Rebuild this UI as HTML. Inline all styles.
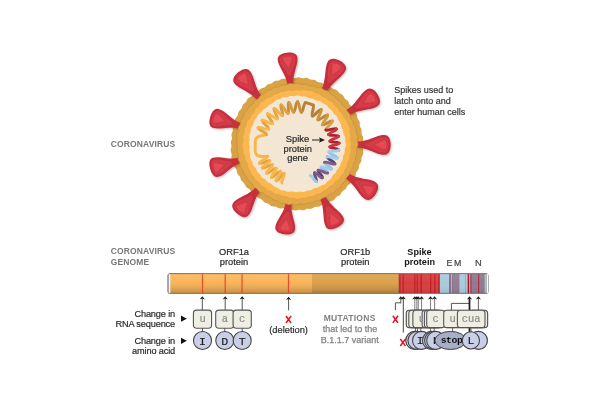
<!DOCTYPE html><html><head><meta charset="utf-8"><style>html,body{margin:0;padding:0;background:#fff;width:600px;height:406px;overflow:hidden}svg{display:block;will-change:transform}</style></head><body><svg width="600" height="406" viewBox="0 0 600 406">
<defs><filter id="sh" x="-30%" y="-30%" width="160%" height="160%"><feGaussianBlur in="SourceAlpha" stdDeviation="1.2"/><feOffset dx="0.8" dy="1" result="b"/><feComponentTransfer><feFuncA type="linear" slope="0.25"/></feComponentTransfer><feMerge><feMergeNode/><feMergeNode in="SourceGraphic"/></feMerge></filter>
<linearGradient id="gOr" x1="0" y1="0" x2="0" y2="1"><stop offset="0" stop-color="#fbb85c"/><stop offset="0.45" stop-color="#f9b55a"/><stop offset="1" stop-color="#d99a4a"/></linearGradient>
<linearGradient id="gOr2" x1="0" y1="0" x2="0" y2="1"><stop offset="0" stop-color="#dea44c"/><stop offset="0.45" stop-color="#dba24b"/><stop offset="1" stop-color="#bf8a42"/></linearGradient>
<linearGradient id="gShade" x1="0" y1="0" x2="0" y2="1"><stop offset="0" stop-color="#fff" stop-opacity="0.06"/><stop offset="0.5" stop-color="#fff" stop-opacity="0"/><stop offset="1" stop-color="#000" stop-opacity="0.08"/></linearGradient>
<linearGradient id="gCap" x1="0" y1="0" x2="1" y2="0"><stop offset="0" stop-color="#bbb"/><stop offset="0.6" stop-color="#fff"/><stop offset="1" stop-color="#ddd"/></linearGradient>
<filter id="bsh" x="-20%" y="-20%" width="140%" height="140%"><feGaussianBlur in="SourceAlpha" stdDeviation="0.6"/><feOffset dx="-0.4" dy="0.3" result="b"/><feComponentTransfer><feFuncA type="linear" slope="0.35"/></feComponentTransfer><feMerge><feMergeNode/><feMergeNode in="SourceGraphic"/></feMerge></filter>
</defs>
<rect width="600" height="406" fill="#fff"/>
<path d="M363.68 144 L363.94 144.88 L364.02 145.76 L363.91 146.63 L363.65 147.49 L363.35 148.35 L363.13 149.2 L363.05 150.07 L363.12 150.95 L363.25 151.84 L363.35 152.74 L363.3 153.61 L363.05 154.46 L362.65 155.28 L362.18 156.08 L361.78 156.88 L361.51 157.71 L361.41 158.58 L361.41 159.46 L361.41 160.36 L361.29 161.23 L360.99 162.05 L360.54 162.82 L360.01 163.57 L359.52 164.31 L359.16 165.1 L358.97 165.95 L358.9 166.83 L358.84 167.74 L358.7 168.62 L358.39 169.43 L357.92 170.17 L357.35 170.87 L356.79 171.56 L356.33 172.3 L356.02 173.11 L355.84 173.98 L355.68 174.88 L355.46 175.74 L355.09 176.53 L354.55 177.22 L353.89 177.85 L353.21 178.45 L352.61 179.09 L352.14 179.81 L351.8 180.61 L351.51 181.46 L351.17 182.29 L350.72 183.03 L350.11 183.66 L349.38 184.19 L348.62 184.69 L347.92 185.23 L347.34 185.87 L346.89 186.61 L346.51 187.42 L346.12 188.23 L345.63 188.96 L345.02 189.57 L344.29 190.07 L343.51 190.51 L342.77 190.99 L342.14 191.57 L341.62 192.27 L341.18 193.07 L340.75 193.89 L340.24 194.63 L339.61 195.24 L338.87 195.71 L338.07 196.1 L337.28 196.49 L336.56 196.98 L335.94 197.6 L335.39 198.32 L334.85 199.07 L334.25 199.75 L333.56 200.29 L332.75 200.66 L331.88 200.92 L331 201.15 L330.17 201.45 L329.42 201.89 L328.74 202.45 L328.07 203.06 L327.38 203.62 L326.61 204.04 L325.75 204.28 L324.84 204.39 L323.91 204.45 L323.03 204.58 L322.2 204.85 L321.44 205.27 L320.71 205.77 L319.97 206.25 L319.17 206.62 L318.32 206.81 L317.42 206.85 L316.51 206.84 L315.62 206.87 L314.78 207.05 L313.99 207.39 L313.22 207.85 L312.44 208.31 L311.63 208.67 L310.79 208.86 L309.91 208.88 L309.01 208.81 L308.13 208.76 L307.27 208.83 L306.43 209.07 L305.61 209.44 L304.79 209.83 L303.95 210.13 L303.09 210.25 L302.21 210.18 L301.33 210 L300.45 209.8 L299.58 209.7 L298.72 209.77 L297.86 209.97 L297 210.23 L296.13 210.42 L295.26 210.44 L294.4 210.28 L293.54 209.98 L292.7 209.65 L291.85 209.41 L291 209.33 L290.13 209.4 L289.24 209.57 L288.35 209.7 L287.48 209.69 L286.63 209.5 L285.8 209.17 L284.99 208.78 L284.18 208.46 L283.33 208.29 L282.45 208.29 L281.54 208.38 L280.63 208.47 L279.73 208.44 L278.88 208.24 L278.08 207.87 L277.31 207.41 L276.53 206.99 L275.72 206.68 L274.86 206.53 L273.95 206.49 L273.03 206.46 L272.14 206.32 L271.32 206.01 L270.57 205.52 L269.87 204.93 L269.19 204.33 L268.46 203.83 L267.67 203.47 L266.82 203.23 L265.95 203.02 L265.11 202.74 L264.35 202.31 L263.68 201.71 L263.09 201 L262.52 200.27 L261.9 199.63 L261.2 199.13 L260.42 198.75 L259.59 198.44 L258.77 198.09 L258.04 197.62 L257.42 197.01 L256.88 196.28 L256.38 195.53 L255.83 194.84 L255.19 194.27 L254.43 193.84 L253.61 193.48 L252.79 193.1 L252.04 192.63 L251.42 192.03 L250.91 191.31 L250.46 190.54 L249.98 189.8 L249.41 189.16 L248.71 188.64 L247.93 188.19 L247.13 187.73 L246.41 187.2 L245.84 186.55 L245.4 185.79 L245.05 184.95 L244.7 184.13 L244.26 183.39 L243.69 182.73 L243.01 182.16 L242.3 181.59 L241.66 180.98 L241.16 180.26 L240.82 179.45 L240.59 178.57 L240.37 177.69 L240.07 176.87 L239.62 176.13 L239.05 175.47 L238.41 174.83 L237.81 174.16 L237.34 173.42 L237.04 172.6 L236.87 171.72 L236.73 170.83 L236.52 169.99 L236.16 169.2 L235.65 168.47 L235.06 167.78 L234.48 167.06 L234.03 166.3 L233.76 165.47 L233.64 164.59 L233.59 163.69 L233.5 162.81 L233.28 161.97 L232.9 161.18 L232.42 160.4 L231.95 159.62 L231.6 158.8 L231.43 157.94 L231.44 157.04 L231.55 156.13 L231.66 155.23 L231.64 154.35 L231.47 153.5 L231.18 152.66 L230.87 151.83 L230.65 150.97 L230.61 150.1 L230.75 149.21 L231.01 148.33 L231.28 147.44 L231.44 146.58 L231.43 145.72 L231.27 144.86 L231.05 144 L230.88 143.13 L230.87 142.27 L231.04 141.41 L231.34 140.56 L231.66 139.72 L231.89 138.88 L231.95 138.02 L231.85 137.15 L231.66 136.27 L231.5 135.38 L231.48 134.5 L231.63 133.65 L231.94 132.82 L232.31 132.01 L232.61 131.19 L232.78 130.35 L232.78 129.47 L232.68 128.56 L232.6 127.65 L232.65 126.76 L232.87 125.91 L233.27 125.12 L233.75 124.36 L234.21 123.6 L234.55 122.8 L234.73 121.95 L234.81 121.06 L234.87 120.15 L235.04 119.28 L235.37 118.47 L235.87 117.73 L236.47 117.05 L237.06 116.37 L237.55 115.64 L237.89 114.85 L238.1 113.99 L238.27 113.1 L238.5 112.24 L238.88 111.45 L239.41 110.75 L240.06 110.12 L240.71 109.51 L241.29 108.85 L241.72 108.1 L242.02 107.26 L242.27 106.38 L242.55 105.52 L242.96 104.74 L243.52 104.06 L244.2 103.49 L244.92 102.94 L245.59 102.37 L246.14 101.7 L246.57 100.93 L246.94 100.1 L247.33 99.28 L247.83 98.55 L248.47 97.95 L249.24 97.47 L250.06 97.06 L250.85 96.63 L251.55 96.11 L252.14 95.47 L252.65 94.75 L253.17 94.02 L253.76 93.37 L254.47 92.87 L255.29 92.5 L256.17 92.21 L257.04 91.92 L257.82 91.53 L258.5 91.01 L259.1 90.37 L259.68 89.7 L260.3 89.08 L261.02 88.59 L261.83 88.25 L262.69 88.02 L263.56 87.79 L264.36 87.47 L265.08 87 L265.72 86.39 L266.34 85.72 L266.98 85.08 L267.7 84.58 L268.49 84.24 L269.35 84.02 L270.22 83.85 L271.06 83.61 L271.83 83.23 L272.55 82.7 L273.24 82.1 L273.95 81.51 L274.71 81.06 L275.54 80.8 L276.43 80.69 L277.33 80.65 L278.21 80.58 L279.06 80.38 L279.86 80.03 L280.64 79.57 L281.42 79.12 L282.24 78.79 L283.11 78.64 L284 78.66 L284.91 78.78 L285.81 78.88 L286.68 78.85 L287.53 78.66 L288.36 78.34 L289.19 77.99 L290.03 77.73 L290.9 77.63 L291.78 77.71 L292.67 77.91 L293.55 78.11 L294.41 78.19 L295.27 78.11 L296.13 77.88 L297 77.59 L297.87 77.36 L298.75 77.29 L299.62 77.41 L300.48 77.67 L301.33 77.96 L302.18 78.17 L303.04 78.23 L303.92 78.14 L304.82 77.97 L305.71 77.85 L306.59 77.87 L307.44 78.09 L308.26 78.47 L309.06 78.91 L309.87 79.3 L310.7 79.55 L311.56 79.65 L312.45 79.65 L313.34 79.67 L314.2 79.8 L315.02 80.12 L315.78 80.6 L316.51 81.16 L317.25 81.68 L318.02 82.07 L318.85 82.3 L319.72 82.4 L320.61 82.49 L321.47 82.65 L322.28 82.98 L323.01 83.46 L323.7 84.04 L324.39 84.6 L325.12 85.04 L325.93 85.33 L326.81 85.49 L327.72 85.6 L328.61 85.78 L329.43 86.1 L330.15 86.58 L330.81 87.17 L331.45 87.78 L332.14 88.31 L332.91 88.7 L333.77 88.97 L334.67 89.2 L335.54 89.46 L336.33 89.86 L337.01 90.42 L337.59 91.1 L338.13 91.83 L338.7 92.51 L339.35 93.08 L340.11 93.52 L340.93 93.91 L341.73 94.32 L342.45 94.83 L343.04 95.48 L343.51 96.26 L343.92 97.08 L344.34 97.88 L344.87 98.57 L345.51 99.15 L346.25 99.66 L346.99 100.16 L347.67 100.73 L348.21 101.41 L348.61 102.21 L348.94 103.06 L349.27 103.89 L349.7 104.64 L350.27 105.3 L350.96 105.87 L351.68 106.42 L352.34 107.03 L352.86 107.73 L353.23 108.52 L353.48 109.39 L353.73 110.25 L354.05 111.06 L354.52 111.79 L355.11 112.45 L355.75 113.09 L356.35 113.76 L356.81 114.51 L357.09 115.34 L357.23 116.23 L357.33 117.14 L357.48 118.01 L357.78 118.83 L358.22 119.58 L358.73 120.3 L359.22 121.04 L359.59 121.84 L359.78 122.69 L359.81 123.59 L359.77 124.51 L359.79 125.4 L359.94 126.25 L360.26 127.05 L360.7 127.82 L361.14 128.6 L361.48 129.41 L361.65 130.26 L361.66 131.14 L361.58 132.03 L361.54 132.91 L361.62 133.76 L361.88 134.59 L362.28 135.41 L362.7 136.22 L363.05 137.06 L363.22 137.91 L363.22 138.79 L363.1 139.67 L362.97 140.54 L362.95 141.41 L363.08 142.27 L363.36 143.13Z" fill="#d9a245"/>
<g filter="url(#sh)">
<g transform="translate(297.0 144.0) rotate(353.7) translate(0 -60) scale(1 0.9436) translate(0 60)"><path d="M -3.1 -60 L -3.2 -63 C -3.7 -68 -6.2 -74 -7.9 -78.5 C -9.3 -82 -10 -85 -9.9 -87.6 C -9.8 -91.6 -6 -93.8 0 -93.8 C 6 -93.8 9.8 -91.6 9.9 -87.6 C 10 -85 9.3 -82 7.9 -78.5 C 6.2 -74 3.7 -68 3.2 -63 L 3.1 -60 Z" fill="#c5313e"/><path d="M -1.7 -68.5 C -2.6 -72 -5 -76.5 -6.6 -80 C -7.8 -82.8 -8.4 -85.5 -8.3 -87.6 C -8.2 -90.4 -5 -92.2 0 -92.2 C 5 -92.2 8.2 -90.4 8.3 -87.6 C 8.4 -85.5 7.8 -82.8 6.6 -80 C 5 -76.5 2.6 -72 1.7 -68.5 Z" fill="#d33a47" stroke="#bb2b39" stroke-width="0.6"/><path d="M 0 -77 L -3.9 -84.6 C -4.6 -86 -5 -87.4 -4.7 -88.4 C -4.2 -89.6 -2.3 -89.9 0 -89.9 C 2.3 -89.9 4.2 -89.6 4.7 -88.4 C 5 -87.4 4.6 -86 3.9 -84.6 Z" fill="#e54953" stroke="#c63240" stroke-width="0.5"/></g>
<g transform="translate(297.0 144.0) rotate(27.0) translate(0 -60) scale(1 0.9970) translate(0 60)"><path d="M -3.1 -60 L -3.2 -63 C -3.7 -68 -6.2 -74 -7.9 -78.5 C -9.3 -82 -10 -85 -9.9 -87.6 C -9.8 -91.6 -6 -93.8 0 -93.8 C 6 -93.8 9.8 -91.6 9.9 -87.6 C 10 -85 9.3 -82 7.9 -78.5 C 6.2 -74 3.7 -68 3.2 -63 L 3.1 -60 Z" fill="#c5313e"/><path d="M -1.7 -68.5 C -2.6 -72 -5 -76.5 -6.6 -80 C -7.8 -82.8 -8.4 -85.5 -8.3 -87.6 C -8.2 -90.4 -5 -92.2 0 -92.2 C 5 -92.2 8.2 -90.4 8.3 -87.6 C 8.4 -85.5 7.8 -82.8 6.6 -80 C 5 -76.5 2.6 -72 1.7 -68.5 Z" fill="#d33a47" stroke="#bb2b39" stroke-width="0.6"/><path d="M 0 -77 L -3.9 -84.6 C -4.6 -86 -5 -87.4 -4.7 -88.4 C -4.2 -89.6 -2.3 -89.9 0 -89.9 C 2.3 -89.9 4.2 -89.6 4.7 -88.4 C 5 -87.4 4.6 -86 3.9 -84.6 Z" fill="#e54953" stroke="#c63240" stroke-width="0.5"/></g>
<g transform="translate(297.0 144.0) rotate(58.4) translate(0 -60) scale(1 1.0267) translate(0 60)"><path d="M -3.1 -60 L -3.2 -63 C -3.7 -68 -6.2 -74 -7.9 -78.5 C -9.3 -82 -10 -85 -9.9 -87.6 C -9.8 -91.6 -6 -93.8 0 -93.8 C 6 -93.8 9.8 -91.6 9.9 -87.6 C 10 -85 9.3 -82 7.9 -78.5 C 6.2 -74 3.7 -68 3.2 -63 L 3.1 -60 Z" fill="#c5313e"/><path d="M -1.7 -68.5 C -2.6 -72 -5 -76.5 -6.6 -80 C -7.8 -82.8 -8.4 -85.5 -8.3 -87.6 C -8.2 -90.4 -5 -92.2 0 -92.2 C 5 -92.2 8.2 -90.4 8.3 -87.6 C 8.4 -85.5 7.8 -82.8 6.6 -80 C 5 -76.5 2.6 -72 1.7 -68.5 Z" fill="#d33a47" stroke="#bb2b39" stroke-width="0.6"/><path d="M 0 -77 L -3.9 -84.6 C -4.6 -86 -5 -87.4 -4.7 -88.4 C -4.2 -89.6 -2.3 -89.9 0 -89.9 C 2.3 -89.9 4.2 -89.6 4.7 -88.4 C 5 -87.4 4.6 -86 3.9 -84.6 Z" fill="#e54953" stroke="#c63240" stroke-width="0.5"/></g>
<g transform="translate(297.0 144.0) rotate(90.6) translate(0 -60) scale(1 0.9970) translate(0 60)"><path d="M -3.1 -60 L -3.2 -63 C -3.7 -68 -6.2 -74 -7.9 -78.5 C -9.3 -82 -10 -85 -9.9 -87.6 C -9.8 -91.6 -6 -93.8 0 -93.8 C 6 -93.8 9.8 -91.6 9.9 -87.6 C 10 -85 9.3 -82 7.9 -78.5 C 6.2 -74 3.7 -68 3.2 -63 L 3.1 -60 Z" fill="#c5313e"/><path d="M -1.7 -68.5 C -2.6 -72 -5 -76.5 -6.6 -80 C -7.8 -82.8 -8.4 -85.5 -8.3 -87.6 C -8.2 -90.4 -5 -92.2 0 -92.2 C 5 -92.2 8.2 -90.4 8.3 -87.6 C 8.4 -85.5 7.8 -82.8 6.6 -80 C 5 -76.5 2.6 -72 1.7 -68.5 Z" fill="#d33a47" stroke="#bb2b39" stroke-width="0.6"/><path d="M 0 -77 L -3.9 -84.6 C -4.6 -86 -5 -87.4 -4.7 -88.4 C -4.2 -89.6 -2.3 -89.9 0 -89.9 C 2.3 -89.9 4.2 -89.6 4.7 -88.4 C 5 -87.4 4.6 -86 3.9 -84.6 Z" fill="#e54953" stroke="#c63240" stroke-width="0.5"/></g>
<g transform="translate(297.0 144.0) rotate(122.5) translate(0 -60) scale(1 0.9852) translate(0 60)"><path d="M -3.1 -60 L -3.2 -63 C -3.7 -68 -6.2 -74 -7.9 -78.5 C -9.3 -82 -10 -85 -9.9 -87.6 C -9.8 -91.6 -6 -93.8 0 -93.8 C 6 -93.8 9.8 -91.6 9.9 -87.6 C 10 -85 9.3 -82 7.9 -78.5 C 6.2 -74 3.7 -68 3.2 -63 L 3.1 -60 Z" fill="#c5313e"/><path d="M -1.7 -68.5 C -2.6 -72 -5 -76.5 -6.6 -80 C -7.8 -82.8 -8.4 -85.5 -8.3 -87.6 C -8.2 -90.4 -5 -92.2 0 -92.2 C 5 -92.2 8.2 -90.4 8.3 -87.6 C 8.4 -85.5 7.8 -82.8 6.6 -80 C 5 -76.5 2.6 -72 1.7 -68.5 Z" fill="#d33a47" stroke="#bb2b39" stroke-width="0.6"/><path d="M 0 -77 L -3.9 -84.6 C -4.6 -86 -5 -87.4 -4.7 -88.4 C -4.2 -89.6 -2.3 -89.9 0 -89.9 C 2.3 -89.9 4.2 -89.6 4.7 -88.4 C 5 -87.4 4.6 -86 3.9 -84.6 Z" fill="#e54953" stroke="#c63240" stroke-width="0.5"/></g>
<g transform="translate(297.0 144.0) rotate(154.3) translate(0 -60) scale(1 0.9674) translate(0 60)"><path d="M -3.1 -60 L -3.2 -63 C -3.7 -68 -6.2 -74 -7.9 -78.5 C -9.3 -82 -10 -85 -9.9 -87.6 C -9.8 -91.6 -6 -93.8 0 -93.8 C 6 -93.8 9.8 -91.6 9.9 -87.6 C 10 -85 9.3 -82 7.9 -78.5 C 6.2 -74 3.7 -68 3.2 -63 L 3.1 -60 Z" fill="#c5313e"/><path d="M -1.7 -68.5 C -2.6 -72 -5 -76.5 -6.6 -80 C -7.8 -82.8 -8.4 -85.5 -8.3 -87.6 C -8.2 -90.4 -5 -92.2 0 -92.2 C 5 -92.2 8.2 -90.4 8.3 -87.6 C 8.4 -85.5 7.8 -82.8 6.6 -80 C 5 -76.5 2.6 -72 1.7 -68.5 Z" fill="#d33a47" stroke="#bb2b39" stroke-width="0.6"/><path d="M 0 -77 L -3.9 -84.6 C -4.6 -86 -5 -87.4 -4.7 -88.4 C -4.2 -89.6 -2.3 -89.9 0 -89.9 C 2.3 -89.9 4.2 -89.6 4.7 -88.4 C 5 -87.4 4.6 -86 3.9 -84.6 Z" fill="#e54953" stroke="#c63240" stroke-width="0.5"/></g>
<g transform="translate(297.0 144.0) rotate(188.0) translate(0 -60) scale(1 0.9199) translate(0 60)"><path d="M -3.1 -60 L -3.2 -63 C -3.7 -68 -6.2 -74 -7.9 -78.5 C -9.3 -82 -10 -85 -9.9 -87.6 C -9.8 -91.6 -6 -93.8 0 -93.8 C 6 -93.8 9.8 -91.6 9.9 -87.6 C 10 -85 9.3 -82 7.9 -78.5 C 6.2 -74 3.7 -68 3.2 -63 L 3.1 -60 Z" fill="#c5313e"/><path d="M -1.7 -68.5 C -2.6 -72 -5 -76.5 -6.6 -80 C -7.8 -82.8 -8.4 -85.5 -8.3 -87.6 C -8.2 -90.4 -5 -92.2 0 -92.2 C 5 -92.2 8.2 -90.4 8.3 -87.6 C 8.4 -85.5 7.8 -82.8 6.6 -80 C 5 -76.5 2.6 -72 1.7 -68.5 Z" fill="#d33a47" stroke="#bb2b39" stroke-width="0.6"/><path d="M 0 -77 L -3.9 -84.6 C -4.6 -86 -5 -87.4 -4.7 -88.4 C -4.2 -89.6 -2.3 -89.9 0 -89.9 C 2.3 -89.9 4.2 -89.6 4.7 -88.4 C 5 -87.4 4.6 -86 3.9 -84.6 Z" fill="#e54953" stroke="#c63240" stroke-width="0.5"/></g>
<g transform="translate(297.0 144.0) rotate(220.8) translate(0 -60) scale(1 0.9436) translate(0 60)"><path d="M -3.1 -60 L -3.2 -63 C -3.7 -68 -6.2 -74 -7.9 -78.5 C -9.3 -82 -10 -85 -9.9 -87.6 C -9.8 -91.6 -6 -93.8 0 -93.8 C 6 -93.8 9.8 -91.6 9.9 -87.6 C 10 -85 9.3 -82 7.9 -78.5 C 6.2 -74 3.7 -68 3.2 -63 L 3.1 -60 Z" fill="#c5313e"/><path d="M -1.7 -68.5 C -2.6 -72 -5 -76.5 -6.6 -80 C -7.8 -82.8 -8.4 -85.5 -8.3 -87.6 C -8.2 -90.4 -5 -92.2 0 -92.2 C 5 -92.2 8.2 -90.4 8.3 -87.6 C 8.4 -85.5 7.8 -82.8 6.6 -80 C 5 -76.5 2.6 -72 1.7 -68.5 Z" fill="#d33a47" stroke="#bb2b39" stroke-width="0.6"/><path d="M 0 -77 L -3.9 -84.6 C -4.6 -86 -5 -87.4 -4.7 -88.4 C -4.2 -89.6 -2.3 -89.9 0 -89.9 C 2.3 -89.9 4.2 -89.6 4.7 -88.4 C 5 -87.4 4.6 -86 3.9 -84.6 Z" fill="#e54953" stroke="#c63240" stroke-width="0.5"/></g>
<g transform="translate(297.0 144.0) rotate(254.0) translate(0 -60) scale(1 0.8961) translate(0 60)"><path d="M -3.1 -60 L -3.2 -63 C -3.7 -68 -6.2 -74 -7.9 -78.5 C -9.3 -82 -10 -85 -9.9 -87.6 C -9.8 -91.6 -6 -93.8 0 -93.8 C 6 -93.8 9.8 -91.6 9.9 -87.6 C 10 -85 9.3 -82 7.9 -78.5 C 6.2 -74 3.7 -68 3.2 -63 L 3.1 -60 Z" fill="#c5313e"/><path d="M -1.7 -68.5 C -2.6 -72 -5 -76.5 -6.6 -80 C -7.8 -82.8 -8.4 -85.5 -8.3 -87.6 C -8.2 -90.4 -5 -92.2 0 -92.2 C 5 -92.2 8.2 -90.4 8.3 -87.6 C 8.4 -85.5 7.8 -82.8 6.6 -80 C 5 -76.5 2.6 -72 1.7 -68.5 Z" fill="#d33a47" stroke="#bb2b39" stroke-width="0.6"/><path d="M 0 -77 L -3.9 -84.6 C -4.6 -86 -5 -87.4 -4.7 -88.4 C -4.2 -89.6 -2.3 -89.9 0 -89.9 C 2.3 -89.9 4.2 -89.6 4.7 -88.4 C 5 -87.4 4.6 -86 3.9 -84.6 Z" fill="#e54953" stroke="#c63240" stroke-width="0.5"/></g>
<g transform="translate(297.0 144.0) rotate(287.5) translate(0 -60) scale(1 0.9139) translate(0 60)"><path d="M -3.1 -60 L -3.2 -63 C -3.7 -68 -6.2 -74 -7.9 -78.5 C -9.3 -82 -10 -85 -9.9 -87.6 C -9.8 -91.6 -6 -93.8 0 -93.8 C 6 -93.8 9.8 -91.6 9.9 -87.6 C 10 -85 9.3 -82 7.9 -78.5 C 6.2 -74 3.7 -68 3.2 -63 L 3.1 -60 Z" fill="#c5313e"/><path d="M -1.7 -68.5 C -2.6 -72 -5 -76.5 -6.6 -80 C -7.8 -82.8 -8.4 -85.5 -8.3 -87.6 C -8.2 -90.4 -5 -92.2 0 -92.2 C 5 -92.2 8.2 -90.4 8.3 -87.6 C 8.4 -85.5 7.8 -82.8 6.6 -80 C 5 -76.5 2.6 -72 1.7 -68.5 Z" fill="#d33a47" stroke="#bb2b39" stroke-width="0.6"/><path d="M 0 -77 L -3.9 -84.6 C -4.6 -86 -5 -87.4 -4.7 -88.4 C -4.2 -89.6 -2.3 -89.9 0 -89.9 C 2.3 -89.9 4.2 -89.6 4.7 -88.4 C 5 -87.4 4.6 -86 3.9 -84.6 Z" fill="#e54953" stroke="#c63240" stroke-width="0.5"/></g>
<g transform="translate(297.0 144.0) rotate(320.6) translate(0 -60) scale(1 0.9674) translate(0 60)"><path d="M -3.1 -60 L -3.2 -63 C -3.7 -68 -6.2 -74 -7.9 -78.5 C -9.3 -82 -10 -85 -9.9 -87.6 C -9.8 -91.6 -6 -93.8 0 -93.8 C 6 -93.8 9.8 -91.6 9.9 -87.6 C 10 -85 9.3 -82 7.9 -78.5 C 6.2 -74 3.7 -68 3.2 -63 L 3.1 -60 Z" fill="#c5313e"/><path d="M -1.7 -68.5 C -2.6 -72 -5 -76.5 -6.6 -80 C -7.8 -82.8 -8.4 -85.5 -8.3 -87.6 C -8.2 -90.4 -5 -92.2 0 -92.2 C 5 -92.2 8.2 -90.4 8.3 -87.6 C 8.4 -85.5 7.8 -82.8 6.6 -80 C 5 -76.5 2.6 -72 1.7 -68.5 Z" fill="#d33a47" stroke="#bb2b39" stroke-width="0.6"/><path d="M 0 -77 L -3.9 -84.6 C -4.6 -86 -5 -87.4 -4.7 -88.4 C -4.2 -89.6 -2.3 -89.9 0 -89.9 C 2.3 -89.9 4.2 -89.6 4.7 -88.4 C 5 -87.4 4.6 -86 3.9 -84.6 Z" fill="#e54953" stroke="#c63240" stroke-width="0.5"/></g>
</g>
<path d="M357.96 144 L357.93 144.8 L357.75 145.59 L357.45 146.37 L357.11 147.15 L356.84 147.92 L356.7 148.7 L356.71 149.49 L356.82 150.29 L356.95 151.1 L357.01 151.9 L356.92 152.69 L356.69 153.45 L356.34 154.2 L355.97 154.93 L355.66 155.67 L355.48 156.43 L355.44 157.22 L355.5 158.04 L355.57 158.87 L355.56 159.69 L355.41 160.47 L355.1 161.21 L354.67 161.91 L354.21 162.59 L353.81 163.28 L353.52 164.01 L353.35 164.79 L353.28 165.6 L353.21 166.43 L353.06 167.22 L352.77 167.96 L352.33 168.63 L351.78 169.25 L351.2 169.85 L350.68 170.47 L350.28 171.15 L350 171.88 L349.8 172.67 L349.62 173.47 L349.37 174.24 L349 174.94 L348.5 175.56 L347.9 176.12 L347.29 176.66 L346.73 177.23 L346.28 177.87 L345.95 178.6 L345.71 179.39 L345.48 180.2 L345.18 180.97 L344.77 181.66 L344.23 182.24 L343.6 182.76 L342.95 183.24 L342.34 183.77 L341.83 184.37 L341.42 185.06 L341.08 185.83 L340.73 186.6 L340.31 187.31 L339.79 187.92 L339.14 188.41 L338.41 188.8 L337.66 189.15 L336.94 189.54 L336.3 190.01 L335.75 190.59 L335.25 191.23 L334.75 191.88 L334.19 192.47 L333.54 192.93 L332.79 193.27 L331.98 193.5 L331.16 193.7 L330.37 193.94 L329.65 194.28 L329.02 194.75 L328.44 195.3 L327.86 195.88 L327.25 196.39 L326.56 196.78 L325.8 197.03 L324.99 197.19 L324.17 197.32 L323.39 197.51 L322.67 197.82 L322.01 198.26 L321.4 198.79 L320.78 199.35 L320.13 199.84 L319.42 200.2 L318.66 200.42 L317.85 200.52 L317.04 200.59 L316.25 200.71 L315.5 200.95 L314.8 201.32 L314.12 201.79 L313.43 202.26 L312.72 202.66 L311.96 202.91 L311.16 202.99 L310.34 202.96 L309.52 202.89 L308.71 202.87 L307.93 202.97 L307.17 203.21 L306.43 203.54 L305.68 203.88 L304.92 204.15 L304.13 204.27 L303.33 204.23 L302.52 204.08 L301.71 203.89 L300.92 203.77 L300.13 203.78 L299.36 203.94 L298.58 204.2 L297.79 204.48 L297 204.69 L296.2 204.75 L295.41 204.66 L294.62 204.46 L293.84 204.22 L293.06 204.05 L292.28 204 L291.48 204.1 L290.66 204.29 L289.84 204.49 L289.02 204.6 L288.22 204.57 L287.44 204.37 L286.68 204.05 L285.94 203.69 L285.19 203.38 L284.42 203.18 L283.62 203.12 L282.8 203.13 L281.98 203.16 L281.17 203.09 L280.4 202.87 L279.67 202.49 L278.99 202 L278.33 201.47 L277.65 200.99 L276.95 200.63 L276.19 200.4 L275.4 200.27 L274.6 200.14 L273.83 199.95 L273.1 199.62 L272.45 199.15 L271.84 198.58 L271.25 197.99 L270.64 197.46 L269.97 197.05 L269.23 196.78 L268.44 196.6 L267.63 196.44 L266.86 196.21 L266.15 195.86 L265.51 195.38 L264.94 194.81 L264.39 194.21 L263.81 193.67 L263.16 193.23 L262.43 192.92 L261.64 192.68 L260.83 192.44 L260.06 192.14 L259.39 191.71 L258.81 191.16 L258.32 190.51 L257.86 189.83 L257.36 189.2 L256.79 188.66 L256.12 188.22 L255.39 187.84 L254.65 187.47 L253.97 187.03 L253.39 186.49 L252.93 185.83 L252.55 185.09 L252.21 184.33 L251.83 183.61 L251.36 182.98 L250.77 182.45 L250.11 181.97 L249.43 181.5 L248.81 180.98 L248.3 180.37 L247.91 179.67 L247.62 178.9 L247.35 178.12 L247.04 177.38 L246.61 176.72 L246.07 176.13 L245.44 175.6 L244.79 175.06 L244.2 174.48 L243.74 173.83 L243.42 173.09 L243.21 172.3 L243.04 171.5 L242.82 170.72 L242.49 170 L242.04 169.34 L241.5 168.71 L240.96 168.08 L240.5 167.4 L240.18 166.67 L240.02 165.87 L239.97 165.04 L239.97 164.19 L239.92 163.37 L239.76 162.6 L239.48 161.86 L239.1 161.15 L238.71 160.44 L238.39 159.7 L238.22 158.93 L238.2 158.12 L238.3 157.28 L238.43 156.45 L238.49 155.64 L238.43 154.86 L238.22 154.1 L237.9 153.36 L237.57 152.62 L237.3 151.86 L237.16 151.08 L237.18 150.29 L237.3 149.49 L237.45 148.69 L237.54 147.9 L237.49 147.12 L237.3 146.35 L237 145.57 L236.68 144.79 L236.45 144 L236.35 143.21 L236.42 142.41 L236.61 141.63 L236.84 140.85 L237.01 140.07 L237.06 139.28 L236.98 138.48 L236.81 137.67 L236.63 136.85 L236.53 136.04 L236.59 135.24 L236.82 134.47 L237.17 133.72 L237.55 132.98 L237.88 132.24 L238.1 131.48 L238.17 130.69 L238.16 129.87 L238.13 129.05 L238.19 128.24 L238.38 127.47 L238.73 126.74 L239.19 126.05 L239.67 125.37 L240.09 124.68 L240.39 123.95 L240.55 123.18 L240.62 122.36 L240.67 121.53 L240.8 120.72 L241.05 119.96 L241.46 119.27 L241.96 118.63 L242.5 118 L242.98 117.36 L243.35 116.66 L243.59 115.9 L243.75 115.09 L243.91 114.27 L244.14 113.48 L244.51 112.77 L245.02 112.15 L245.63 111.59 L246.28 111.06 L246.88 110.51 L247.38 109.89 L247.77 109.2 L248.08 108.46 L248.39 107.7 L248.78 107 L249.28 106.38 L249.91 105.87 L250.63 105.43 L251.37 105.03 L252.06 104.59 L252.65 104.07 L253.13 103.45 L253.54 102.76 L253.94 102.05 L254.39 101.39 L254.94 100.83 L255.6 100.37 L256.33 100 L257.07 99.65 L257.76 99.26 L258.36 98.76 L258.86 98.15 L259.3 97.45 L259.74 96.73 L260.22 96.07 L260.79 95.51 L261.46 95.08 L262.19 94.75 L262.94 94.44 L263.65 94.09 L264.29 93.64 L264.86 93.06 L265.39 92.41 L265.91 91.75 L266.49 91.15 L267.15 90.69 L267.88 90.38 L268.68 90.17 L269.49 90.01 L270.27 89.81 L271 89.5 L271.68 89.07 L272.31 88.55 L272.95 88.03 L273.63 87.58 L274.37 87.27 L275.16 87.11 L276 87.07 L276.84 87.06 L277.65 87 L278.42 86.81 L279.14 86.5 L279.84 86.08 L280.54 85.65 L281.27 85.28 L282.03 85.06 L282.83 84.98 L283.65 85.02 L284.48 85.08 L285.28 85.09 L286.06 84.97 L286.81 84.71 L287.55 84.35 L288.3 83.97 L289.06 83.67 L289.84 83.52 L290.64 83.53 L291.46 83.66 L292.26 83.83 L293.06 83.94 L293.85 83.94 L294.63 83.8 L295.42 83.57 L296.21 83.33 L297 83.17 L297.8 83.17 L298.59 83.34 L299.37 83.62 L300.15 83.95 L300.92 84.22 L301.69 84.36 L302.48 84.37 L303.28 84.27 L304.08 84.16 L304.88 84.13 L305.66 84.24 L306.42 84.5 L307.16 84.87 L307.88 85.27 L308.62 85.6 L309.37 85.8 L310.16 85.85 L310.97 85.79 L311.8 85.72 L312.62 85.72 L313.4 85.85 L314.14 86.13 L314.85 86.51 L315.54 86.92 L316.26 87.28 L317.01 87.5 L317.81 87.6 L318.65 87.61 L319.5 87.6 L320.33 87.68 L321.1 87.9 L321.81 88.27 L322.47 88.76 L323.1 89.28 L323.75 89.76 L324.45 90.12 L325.21 90.37 L326.02 90.55 L326.84 90.72 L327.61 90.98 L328.31 91.37 L328.93 91.9 L329.47 92.54 L329.99 93.2 L330.53 93.82 L331.14 94.33 L331.82 94.73 L332.57 95.05 L333.32 95.36 L334.04 95.73 L334.66 96.22 L335.19 96.84 L335.64 97.54 L336.07 98.25 L336.54 98.91 L337.09 99.48 L337.74 99.93 L338.46 100.31 L339.2 100.68 L339.89 101.11 L340.48 101.64 L340.96 102.28 L341.35 103 L341.71 103.74 L342.12 104.43 L342.61 105.04 L343.22 105.56 L343.89 106.03 L344.58 106.49 L345.21 107.01 L345.72 107.62 L346.1 108.33 L346.37 109.11 L346.61 109.91 L346.89 110.67 L347.26 111.36 L347.76 111.98 L348.33 112.55 L348.92 113.11 L349.44 113.73 L349.83 114.41 L350.08 115.18 L350.23 115.99 L350.35 116.82 L350.52 117.61 L350.81 118.34 L351.23 119 L351.75 119.63 L352.29 120.25 L352.76 120.9 L353.11 121.61 L353.32 122.38 L353.42 123.18 L353.5 123.99 L353.64 124.77 L353.9 125.51 L354.3 126.21 L354.8 126.88 L355.32 127.55 L355.77 128.25 L356.07 129 L356.22 129.78 L356.24 130.59 L356.23 131.41 L356.27 132.21 L356.43 132.99 L356.72 133.74 L357.09 134.48 L357.48 135.23 L357.77 136 L357.91 136.79 L357.88 137.6 L357.72 138.42 L357.52 139.24 L357.37 140.04 L357.34 140.84 L357.44 141.63 L357.63 142.41 L357.84 143.2Z" fill="#e3a948" stroke="#c48e3a" stroke-width="0.9" stroke-opacity="0.85"/>
<path d="M351.42 144 L351.31 144.71 L351.13 145.42 L350.95 146.12 L350.82 146.82 L350.78 147.53 L350.85 148.24 L350.98 148.96 L351.13 149.69 L351.23 150.42 L351.23 151.14 L351.11 151.85 L350.87 152.53 L350.56 153.2 L350.25 153.87 L349.99 154.54 L349.82 155.23 L349.75 155.94 L349.74 156.66 L349.75 157.4 L349.7 158.12 L349.56 158.82 L349.3 159.49 L348.94 160.13 L348.53 160.74 L348.13 161.36 L347.79 161.99 L347.56 162.65 L347.42 163.36 L347.35 164.09 L347.29 164.83 L347.18 165.56 L346.98 166.25 L346.67 166.9 L346.27 167.5 L345.82 168.08 L345.39 168.66 L345.02 169.27 L344.74 169.92 L344.54 170.62 L344.39 171.36 L344.23 172.1 L344.02 172.81 L343.7 173.47 L343.27 174.05 L342.76 174.57 L342.2 175.06 L341.64 175.55 L341.14 176.07 L340.72 176.65 L340.36 177.27 L340.04 177.93 L339.71 178.58 L339.31 179.19 L338.83 179.73 L338.25 180.18 L337.6 180.56 L336.92 180.91 L336.26 181.26 L335.66 181.67 L335.14 182.14 L334.69 182.69 L334.27 183.27 L333.84 183.86 L333.38 184.4 L332.83 184.86 L332.22 185.24 L331.56 185.55 L330.88 185.84 L330.23 186.15 L329.63 186.52 L329.1 186.99 L328.63 187.53 L328.18 188.13 L327.73 188.71 L327.23 189.24 L326.66 189.68 L326.03 190.01 L325.36 190.28 L324.67 190.51 L324 190.77 L323.37 191.1 L322.8 191.51 L322.25 192 L321.72 192.52 L321.18 193.03 L320.59 193.45 L319.94 193.77 L319.25 193.97 L318.52 194.09 L317.79 194.18 L317.07 194.3 L316.38 194.5 L315.74 194.79 L315.12 195.16 L314.5 195.57 L313.88 195.95 L313.22 196.25 L312.53 196.44 L311.81 196.52 L311.08 196.53 L310.34 196.53 L309.62 196.57 L308.92 196.7 L308.25 196.93 L307.59 197.26 L306.94 197.61 L306.27 197.94 L305.58 198.19 L304.88 198.32 L304.15 198.33 L303.42 198.28 L302.7 198.2 L301.98 198.18 L301.27 198.24 L300.57 198.4 L299.86 198.63 L299.16 198.88 L298.44 199.08 L297.72 199.18 L297 199.15 L296.28 199.01 L295.57 198.78 L294.86 198.53 L294.15 198.34 L293.45 198.22 L292.73 198.21 L292.01 198.26 L291.29 198.32 L290.57 198.34 L289.86 198.26 L289.16 198.05 L288.49 197.74 L287.83 197.37 L287.18 197 L286.52 196.69 L285.84 196.49 L285.15 196.39 L284.43 196.37 L283.7 196.36 L282.98 196.32 L282.28 196.19 L281.61 195.94 L280.98 195.61 L280.36 195.23 L279.74 194.86 L279.1 194.56 L278.42 194.35 L277.71 194.25 L276.97 194.21 L276.22 194.17 L275.48 194.08 L274.78 193.9 L274.13 193.6 L273.53 193.2 L272.95 192.76 L272.38 192.32 L271.78 191.94 L271.13 191.64 L270.44 191.42 L269.72 191.24 L269 191.06 L268.31 190.82 L267.67 190.48 L267.11 190.03 L266.6 189.5 L266.13 188.92 L265.65 188.36 L265.14 187.85 L264.57 187.43 L263.94 187.08 L263.27 186.78 L262.61 186.47 L261.98 186.11 L261.41 185.67 L260.93 185.14 L260.5 184.54 L260.11 183.91 L259.7 183.31 L259.24 182.76 L258.7 182.3 L258.1 181.9 L257.45 181.53 L256.8 181.16 L256.2 180.73 L255.69 180.23 L255.26 179.65 L254.91 179.01 L254.59 178.34 L254.26 177.69 L253.87 177.09 L253.4 176.56 L252.87 176.06 L252.3 175.59 L251.74 175.1 L251.26 174.56 L250.87 173.96 L250.6 173.28 L250.4 172.56 L250.24 171.82 L250.06 171.1 L249.82 170.42 L249.49 169.8 L249.08 169.21 L248.64 168.64 L248.21 168.06 L247.86 167.44 L247.6 166.77 L247.45 166.06 L247.38 165.32 L247.32 164.58 L247.22 163.86 L247.04 163.18 L246.75 162.54 L246.37 161.93 L245.95 161.33 L245.54 160.72 L245.2 160.08 L244.97 159.41 L244.84 158.71 L244.79 157.99 L244.74 157.27 L244.66 156.57 L244.48 155.88 L244.2 155.22 L243.84 154.57 L243.44 153.93 L243.09 153.26 L242.82 152.58 L242.68 151.88 L242.65 151.15 L242.71 150.43 L242.79 149.7 L242.83 148.98 L242.78 148.27 L242.64 147.56 L242.43 146.86 L242.2 146.15 L242.02 145.44 L241.94 144.72 L241.98 144 L242.14 143.28 L242.38 142.57 L242.62 141.86 L242.81 141.16 L242.91 140.45 L242.9 139.74 L242.81 139.02 L242.71 138.29 L242.64 137.57 L242.67 136.85 L242.82 136.14 L243.07 135.46 L243.38 134.79 L243.68 134.12 L243.92 133.44 L244.07 132.75 L244.11 132.03 L244.08 131.3 L244.05 130.55 L244.06 129.81 L244.17 129.1 L244.4 128.42 L244.74 127.77 L245.13 127.15 L245.53 126.53 L245.86 125.89 L246.12 125.23 L246.28 124.53 L246.39 123.81 L246.5 123.08 L246.67 122.38 L246.94 121.71 L247.33 121.1 L247.82 120.54 L248.35 120.01 L248.87 119.48 L249.34 118.92 L249.71 118.32 L249.99 117.67 L250.22 116.99 L250.45 116.31 L250.73 115.65 L251.09 115.04 L251.56 114.49 L252.09 113.99 L252.66 113.52 L253.2 113.05 L253.68 112.52 L254.06 111.94 L254.37 111.29 L254.62 110.59 L254.87 109.89 L255.18 109.22 L255.57 108.61 L256.05 108.08 L256.59 107.62 L257.17 107.18 L257.72 106.73 L258.23 106.23 L258.66 105.66 L259.03 105.02 L259.37 104.35 L259.73 103.68 L260.14 103.07 L260.64 102.54 L261.23 102.12 L261.87 101.77 L262.55 101.46 L263.21 101.13 L263.82 100.76 L264.37 100.31 L264.88 99.79 L265.37 99.24 L265.87 98.7 L266.42 98.23 L267.03 97.86 L267.71 97.59 L268.44 97.39 L269.17 97.23 L269.89 97.04 L270.55 96.78 L271.17 96.42 L271.74 95.99 L272.29 95.51 L272.86 95.05 L273.46 94.65 L274.11 94.35 L274.81 94.15 L275.53 94.03 L276.26 93.93 L276.97 93.8 L277.65 93.58 L278.28 93.26 L278.89 92.86 L279.49 92.43 L280.11 92.02 L280.76 91.7 L281.44 91.49 L282.16 91.39 L282.9 91.38 L283.64 91.39 L284.36 91.37 L285.07 91.26 L285.75 91.06 L286.42 90.79 L287.08 90.49 L287.76 90.22 L288.46 90.05 L289.17 90 L289.9 90.06 L290.63 90.2 L291.36 90.35 L292.08 90.46 L292.79 90.46 L293.48 90.37 L294.18 90.19 L294.88 89.97 L295.58 89.79 L296.29 89.7 L297 89.72 L297.71 89.84 L298.41 90.02 L299.11 90.21 L299.81 90.33 L300.52 90.35 L301.23 90.26 L301.95 90.09 L302.69 89.9 L303.42 89.75 L304.15 89.7 L304.86 89.77 L305.56 89.94 L306.25 90.18 L306.93 90.43 L307.62 90.63 L308.32 90.74 L309.05 90.75 L309.79 90.71 L310.55 90.66 L311.29 90.68 L312 90.8 L312.69 91.05 L313.33 91.41 L313.95 91.83 L314.57 92.25 L315.19 92.63 L315.85 92.91 L316.54 93.11 L317.25 93.25 L317.97 93.38 L318.66 93.58 L319.32 93.86 L319.93 94.26 L320.49 94.75 L321.02 95.28 L321.56 95.8 L322.12 96.25 L322.73 96.61 L323.39 96.87 L324.09 97.08 L324.79 97.28 L325.47 97.53 L326.1 97.87 L326.67 98.31 L327.18 98.83 L327.67 99.38 L328.16 99.91 L328.69 100.39 L329.28 100.78 L329.93 101.09 L330.61 101.36 L331.3 101.64 L331.95 101.98 L332.52 102.41 L333.02 102.93 L333.44 103.53 L333.83 104.15 L334.23 104.77 L334.67 105.33 L335.18 105.82 L335.76 106.24 L336.37 106.64 L336.98 107.04 L337.53 107.5 L338.01 108.04 L338.39 108.65 L338.69 109.32 L338.97 110.01 L339.27 110.68 L339.63 111.29 L340.08 111.83 L340.61 112.32 L341.18 112.77 L341.75 113.24 L342.27 113.75 L342.69 114.33 L343.03 114.96 L343.29 115.64 L343.53 116.32 L343.79 116.98 L344.14 117.6 L344.57 118.17 L345.09 118.7 L345.65 119.21 L346.19 119.74 L346.66 120.31 L347.02 120.94 L347.27 121.62 L347.43 122.33 L347.57 123.05 L347.73 123.76 L347.96 124.44 L348.28 125.08 L348.67 125.7 L349.08 126.32 L349.46 126.95 L349.76 127.62 L349.93 128.32 L349.98 129.06 L349.94 129.81 L349.88 130.57 L349.86 131.31 L349.91 132.03 L350.07 132.72 L350.31 133.4 L350.57 134.07 L350.81 134.75 L350.96 135.45 L351 136.17 L350.93 136.9 L350.79 137.63 L350.64 138.36 L350.55 139.08 L350.55 139.79 L350.67 140.48 L350.87 141.18 L351.11 141.87 L351.31 142.58 L351.42 143.29Z" fill="#fcb84f" stroke="#d9a042" stroke-width="0.7" stroke-opacity="0.8"/>
<path d="M345.8 144 L345.87 144.64 L345.84 145.28 L345.72 145.91 L345.52 146.54 L345.28 147.16 L345.04 147.78 L344.85 148.4 L344.72 149.02 L344.66 149.64 L344.65 150.27 L344.67 150.91 L344.67 151.55 L344.61 152.18 L344.48 152.8 L344.26 153.4 L343.99 153.99 L343.68 154.56 L343.39 155.14 L343.15 155.72 L342.98 156.32 L342.88 156.94 L342.84 157.58 L342.82 158.23 L342.78 158.87 L342.68 159.51 L342.51 160.11 L342.25 160.69 L341.92 161.24 L341.56 161.78 L341.21 162.31 L340.89 162.86 L340.63 163.43 L340.44 164.02 L340.28 164.64 L340.14 165.27 L339.97 165.89 L339.74 166.49 L339.44 167.04 L339.05 167.55 L338.61 168.02 L338.13 168.47 L337.66 168.92 L337.24 169.39 L336.87 169.89 L336.56 170.44 L336.3 171.01 L336.06 171.61 L335.81 172.19 L335.5 172.75 L335.14 173.27 L334.71 173.73 L334.24 174.16 L333.74 174.56 L333.26 174.97 L332.82 175.41 L332.43 175.9 L332.1 176.44 L331.81 177.03 L331.53 177.63 L331.23 178.23 L330.88 178.78 L330.48 179.28 L330.01 179.71 L329.49 180.08 L328.95 180.43 L328.4 180.77 L327.89 181.14 L327.41 181.55 L326.97 182.01 L326.55 182.51 L326.14 183.02 L325.7 183.51 L325.23 183.94 L324.69 184.29 L324.11 184.57 L323.48 184.78 L322.84 184.95 L322.19 185.11 L321.58 185.31 L321 185.57 L320.45 185.88 L319.93 186.24 L319.42 186.61 L318.9 186.97 L318.35 187.29 L317.76 187.53 L317.14 187.69 L316.5 187.8 L315.85 187.88 L315.21 187.97 L314.6 188.11 L314.01 188.31 L313.45 188.59 L312.91 188.93 L312.37 189.29 L311.83 189.64 L311.26 189.93 L310.67 190.15 L310.05 190.29 L309.42 190.36 L308.78 190.4 L308.15 190.44 L307.53 190.52 L306.92 190.67 L306.32 190.88 L305.74 191.14 L305.15 191.41 L304.55 191.66 L303.94 191.85 L303.31 191.95 L302.68 191.95 L302.03 191.89 L301.39 191.78 L300.75 191.68 L300.12 191.62 L299.5 191.62 L298.87 191.7 L298.25 191.83 L297.63 191.98 L297 192.12 L296.37 192.19 L295.74 192.19 L295.11 192.11 L294.49 191.96 L293.87 191.78 L293.25 191.62 L292.63 191.51 L292.01 191.47 L291.38 191.5 L290.73 191.59 L290.08 191.71 L289.43 191.8 L288.78 191.84 L288.14 191.79 L287.52 191.66 L286.91 191.46 L286.32 191.22 L285.72 190.98 L285.12 190.78 L284.5 190.64 L283.87 190.55 L283.22 190.52 L282.57 190.48 L281.92 190.42 L281.29 190.29 L280.68 190.07 L280.12 189.77 L279.58 189.39 L279.06 188.97 L278.55 188.55 L278.02 188.17 L277.48 187.84 L276.91 187.58 L276.31 187.37 L275.71 187.17 L275.11 186.95 L274.54 186.68 L274.01 186.34 L273.52 185.93 L273.06 185.47 L272.62 184.98 L272.18 184.51 L271.71 184.08 L271.21 183.72 L270.66 183.43 L270.07 183.18 L269.47 182.96 L268.87 182.72 L268.3 182.44 L267.77 182.09 L267.29 181.68 L266.86 181.22 L266.45 180.73 L266.03 180.26 L265.59 179.81 L265.11 179.42 L264.58 179.08 L264.01 178.77 L263.42 178.47 L262.85 178.15 L262.33 177.78 L261.87 177.34 L261.47 176.84 L261.13 176.29 L260.83 175.72 L260.52 175.15 L260.19 174.61 L259.81 174.11 L259.38 173.66 L258.91 173.23 L258.41 172.81 L257.94 172.38 L257.51 171.91 L257.15 171.39 L256.85 170.83 L256.62 170.23 L256.41 169.61 L256.19 169.01 L255.93 168.43 L255.62 167.89 L255.23 167.39 L254.8 166.92 L254.34 166.45 L253.89 165.97 L253.49 165.46 L253.17 164.91 L252.92 164.32 L252.74 163.71 L252.59 163.08 L252.44 162.46 L252.25 161.85 L252.01 161.27 L251.7 160.71 L251.35 160.17 L250.98 159.62 L250.65 159.06 L250.38 158.48 L250.19 157.87 L250.1 157.23 L250.09 156.57 L250.11 155.91 L250.15 155.25 L250.14 154.6 L250.08 153.97 L249.95 153.36 L249.77 152.75 L249.58 152.15 L249.4 151.54 L249.29 150.92 L249.25 150.29 L249.3 149.65 L249.41 149 L249.56 148.36 L249.69 147.72 L249.76 147.1 L249.77 146.48 L249.69 145.86 L249.55 145.24 L249.38 144.62 L249.22 144 L249.11 143.37 L249.08 142.75 L249.13 142.12 L249.25 141.5 L249.39 140.88 L249.52 140.26 L249.61 139.65 L249.63 139.02 L249.58 138.39 L249.48 137.74 L249.36 137.09 L249.27 136.44 L249.24 135.79 L249.31 135.16 L249.46 134.54 L249.69 133.94 L249.96 133.36 L250.22 132.77 L250.46 132.18 L250.63 131.57 L250.74 130.95 L250.8 130.31 L250.85 129.67 L250.92 129.03 L251.05 128.4 L251.27 127.81 L251.56 127.24 L251.92 126.7 L252.31 126.17 L252.69 125.65 L253.02 125.11 L253.29 124.54 L253.49 123.94 L253.64 123.32 L253.77 122.68 L253.91 122.04 L254.11 121.43 L254.38 120.86 L254.72 120.32 L255.12 119.82 L255.55 119.34 L255.97 118.86 L256.36 118.36 L256.68 117.82 L256.96 117.24 L257.19 116.64 L257.42 116.02 L257.67 115.42 L257.97 114.86 L258.35 114.34 L258.81 113.89 L259.32 113.49 L259.86 113.11 L260.4 112.74 L260.92 112.35 L261.38 111.93 L261.79 111.46 L262.17 110.95 L262.54 110.43 L262.93 109.93 L263.36 109.47 L263.85 109.07 L264.39 108.73 L264.98 108.44 L265.59 108.18 L266.18 107.91 L266.73 107.61 L267.24 107.25 L267.7 106.83 L268.11 106.36 L268.52 105.86 L268.93 105.37 L269.38 104.92 L269.87 104.53 L270.41 104.2 L270.97 103.92 L271.56 103.68 L272.13 103.42 L272.68 103.12 L273.19 102.76 L273.67 102.34 L274.13 101.87 L274.58 101.38 L275.05 100.92 L275.55 100.5 L276.09 100.17 L276.68 99.91 L277.29 99.73 L277.92 99.59 L278.55 99.45 L279.16 99.28 L279.75 99.05 L280.31 98.77 L280.87 98.44 L281.42 98.09 L281.98 97.78 L282.57 97.52 L283.18 97.35 L283.82 97.26 L284.47 97.24 L285.13 97.26 L285.78 97.27 L286.42 97.24 L287.04 97.15 L287.65 96.98 L288.24 96.75 L288.84 96.5 L289.44 96.26 L290.05 96.09 L290.68 95.98 L291.31 95.96 L291.96 96.01 L292.6 96.09 L293.24 96.16 L293.87 96.19 L294.49 96.15 L295.12 96.03 L295.74 95.87 L296.37 95.69 L297 95.53 L297.64 95.44 L298.27 95.43 L298.9 95.52 L299.53 95.69 L300.15 95.9 L300.77 96.1 L301.39 96.27 L302.01 96.38 L302.63 96.42 L303.26 96.42 L303.9 96.4 L304.54 96.41 L305.17 96.47 L305.78 96.62 L306.38 96.86 L306.96 97.16 L307.52 97.49 L308.09 97.81 L308.66 98.09 L309.25 98.28 L309.86 98.41 L310.49 98.47 L311.12 98.51 L311.76 98.56 L312.39 98.66 L312.99 98.84 L313.57 99.08 L314.13 99.38 L314.67 99.71 L315.21 100.03 L315.78 100.3 L316.37 100.5 L316.99 100.64 L317.64 100.72 L318.31 100.8 L318.96 100.89 L319.6 101.05 L320.19 101.28 L320.75 101.6 L321.26 101.98 L321.75 102.39 L322.24 102.81 L322.74 103.2 L323.28 103.53 L323.85 103.82 L324.44 104.07 L325.05 104.31 L325.64 104.58 L326.19 104.91 L326.69 105.3 L327.14 105.77 L327.53 106.3 L327.9 106.85 L328.26 107.4 L328.65 107.91 L329.08 108.37 L329.56 108.77 L330.08 109.14 L330.62 109.49 L331.15 109.85 L331.64 110.25 L332.08 110.71 L332.45 111.23 L332.78 111.79 L333.08 112.36 L333.38 112.93 L333.72 113.46 L334.12 113.94 L334.57 114.38 L335.06 114.79 L335.58 115.19 L336.08 115.61 L336.53 116.06 L336.91 116.57 L337.22 117.13 L337.47 117.72 L337.68 118.34 L337.89 118.95 L338.12 119.53 L338.42 120.09 L338.77 120.61 L339.16 121.11 L339.56 121.61 L339.95 122.12 L340.28 122.66 L340.53 123.24 L340.7 123.85 L340.81 124.5 L340.88 125.15 L340.96 125.79 L341.08 126.41 L341.26 127.01 L341.52 127.57 L341.84 128.12 L342.18 128.66 L342.51 129.21 L342.79 129.78 L343 130.38 L343.13 130.99 L343.21 131.62 L343.25 132.25 L343.31 132.88 L343.42 133.5 L343.6 134.1 L343.85 134.68 L344.16 135.26 L344.49 135.84 L344.8 136.43 L345.05 137.03 L345.22 137.65 L345.29 138.28 L345.29 138.92 L345.25 139.57 L345.2 140.21 L345.19 140.84 L345.24 141.47 L345.35 142.1 L345.51 142.73 L345.67 143.36Z" fill="#f3e7d4"/>
<path d="M284.09 173.28 C282.44 172.55 277.85 181.65 276.28 180.77" fill="none" stroke="#e3a442" stroke-width="2.95" stroke-linecap="round"/>
<path d="M280.28 171.28 C278.75 170.34 272.92 178.7 271.49 177.61" fill="none" stroke="#e3a442" stroke-width="2.95" stroke-linecap="round"/>
<path d="M276.18 168.3 C274.81 167.13 267.89 174.61 266.64 173.31" fill="none" stroke="#e3a442" stroke-width="2.95" stroke-linecap="round"/>
<path d="M272.63 164.74 C271.46 163.37 263.29 169.44 262.26 167.96" fill="none" stroke="#e3a442" stroke-width="2.95" stroke-linecap="round"/>
<path d="M269.8 160.86 C268.85 159.33 260.22 164.76 259.4 163.16" fill="none" stroke="#e3a442" stroke-width="2.95" stroke-linecap="round"/>
<path d="M282.02 183.02 C280.34 182.38 285.73 174.01 284.09 173.28" fill="none" stroke="#fab64b" stroke-width="2.95" stroke-linecap="round"/>
<path d="M276.28 180.77 C274.72 179.88 281.81 172.22 280.28 171.28" fill="none" stroke="#fab64b" stroke-width="2.95" stroke-linecap="round"/>
<path d="M271.49 177.61 C270.05 176.53 277.54 169.47 276.18 168.3" fill="none" stroke="#fab64b" stroke-width="2.95" stroke-linecap="round"/>
<path d="M266.64 173.31 C265.39 172.02 273.8 166.11 272.63 164.74" fill="none" stroke="#fab64b" stroke-width="2.95" stroke-linecap="round"/>
<path d="M262.26 167.96 C261.24 166.48 270.75 162.39 269.8 160.86" fill="none" stroke="#fab64b" stroke-width="2.95" stroke-linecap="round"/>
<path d="M259.4 163.16 C258.58 161.55 268.17 158.01 267.48 156.35" fill="none" stroke="#fab64b" stroke-width="2.95" stroke-linecap="round"/>
<path d="M 267.48 156.35 C 262 156.8 258 156.2 256.4 154.6 C 255.3 153.5 255.2 152 255.2 150 L 255.3 141 C 255.3 138.5 256.5 137.2 259 136.4 C 261.5 135.6 264 135 266.45 134.48" fill="none" stroke="#f8b54a" stroke-width="2.95" stroke-linecap="round" stroke-linejoin="round"/>
<path d="M266.45 134.48 C266.98 132.77 257.37 129.38 258.07 127.71" fill="none" stroke="#e2a442" stroke-width="2.95" stroke-linecap="round"/>
<path d="M268.77 128.93 C269.62 127.34 261.12 121.71 262.14 120.22" fill="none" stroke="#e2a442" stroke-width="2.95" stroke-linecap="round"/>
<path d="M272.45 123.47 C273.61 122.09 266.19 115.11 267.47 113.85" fill="none" stroke="#e2a442" stroke-width="2.95" stroke-linecap="round"/>
<path d="M277.3 118.78 C278.72 117.68 272.57 109.55 274.08 108.57" fill="none" stroke="#e2a442" stroke-width="2.95" stroke-linecap="round"/>
<path d="M282.47 115.49 C284.08 114.67 279.39 105.61 281.06 104.93" fill="none" stroke="#d1973e" stroke-width="2.95" stroke-linecap="round"/>
<path d="M287.91 113.32 C289.64 112.81 287.04 102.95 288.8 102.6" fill="none" stroke="#c48e3c" stroke-width="2.95" stroke-linecap="round"/>
<path d="M293.6 112.18 C295.39 111.99 295.72 101.78 297.52 101.8" fill="none" stroke="#bc883b" stroke-width="2.95" stroke-linecap="round"/>
<path d="M301.4 112.3 C303.18 112.55 303.72 102.3 305.49 102.66" fill="none" stroke="#b4813a" stroke-width="2.95" stroke-linecap="round"/>
<path d="M312.37 115.93 C313.95 116.8 319.73 108.4 321.2 109.43" fill="none" stroke="#b17f36" stroke-width="2.95" stroke-linecap="round"/>
<path d="M317.95 119.81 C319.31 120.99 326.37 113.65 327.61 114.95" fill="none" stroke="#b88539" stroke-width="2.95" stroke-linecap="round"/>
<path d="M322.56 124.74 C323.64 126.18 331.41 119.51 332.39 121.02" fill="none" stroke="#bf8b3d" stroke-width="2.95" stroke-linecap="round"/>
<path d="M258.07 127.71 C258.76 126.05 267.92 130.52 268.77 128.93" fill="none" stroke="#fbb64c" stroke-width="2.95" stroke-linecap="round"/>
<path d="M262.14 120.22 C263.15 118.73 271.3 124.85 272.45 123.47" fill="none" stroke="#fbb64c" stroke-width="2.95" stroke-linecap="round"/>
<path d="M267.47 113.85 C268.76 112.59 275.88 119.89 277.3 118.78" fill="none" stroke="#fbb64c" stroke-width="2.95" stroke-linecap="round"/>
<path d="M274.08 108.57 C275.59 107.59 280.87 116.3 282.47 115.49" fill="none" stroke="#f3b149" stroke-width="2.95" stroke-linecap="round"/>
<path d="M281.06 104.93 C282.72 104.25 286.19 113.83 287.91 113.32" fill="none" stroke="#dda343" stroke-width="2.95" stroke-linecap="round"/>
<path d="M288.8 102.6 C290.57 102.25 291.81 112.37 293.6 112.18" fill="none" stroke="#d39a40" stroke-width="2.95" stroke-linecap="round"/>
<path d="M297.52 101.8 C299.32 101.83 299.62 112.06 301.4 112.3" fill="none" stroke="#c7913c" stroke-width="2.95" stroke-linecap="round"/>
<path d="M305.49 102.66 C307.25 103.02 311.56 104.35 313.22 105.04" fill="none" stroke="#b5823a" stroke-width="2.95" stroke-linecap="round"/>
<path d="M313.22 105.04 C314.88 105.73 310.79 115.07 312.37 115.93" fill="none" stroke="#b5823a" stroke-width="2.95" stroke-linecap="round"/>
<path d="M321.2 109.43 C322.68 110.46 316.59 118.63 317.95 119.81" fill="none" stroke="#c99440" stroke-width="2.95" stroke-linecap="round"/>
<path d="M327.61 114.95 C328.85 116.26 321.47 123.3 322.56 124.74" fill="none" stroke="#d09c43" stroke-width="2.95" stroke-linecap="round"/>
<path d="M332.39 121.02 C333.37 122.53 324.97 128.35 325.76 129.97" fill="none" stroke="#d7a347" stroke-width="2.95" stroke-linecap="round"/>
<path d="M325.76 129.97 C326.55 131.59 335.78 127.26 336.42 128.95" fill="none" stroke="#a82232" stroke-width="2.95" stroke-linecap="round"/>
<path d="M328.61 134.52 C329.13 136.24 338.15 134.47 338.48 136.24" fill="none" stroke="#a82232" stroke-width="2.95" stroke-linecap="round"/>
<path d="M329.87 141.12 C330.03 142.92 339.15 141.32 339.19 143.12" fill="none" stroke="#a82232" stroke-width="2.95" stroke-linecap="round"/>
<path d="M329.87 146.88 C329.72 148.67 339.03 148.16 338.78 149.95" fill="none" stroke="#a82232" stroke-width="2.95" stroke-linecap="round"/>
<path d="M336.42 128.95 C337.07 130.63 328.09 132.79 328.61 134.52" fill="none" stroke="#d2323f" stroke-width="2.95" stroke-linecap="round"/>
<path d="M338.48 136.24 C338.81 138.01 329.72 139.33 329.87 141.12" fill="none" stroke="#d2323f" stroke-width="2.95" stroke-linecap="round"/>
<path d="M339.19 143.12 C339.23 144.92 330.03 145.08 329.87 146.88" fill="none" stroke="#d2323f" stroke-width="2.95" stroke-linecap="round"/>
<path d="M328.96 152.21 C328.52 153.95 338.01 156.38 337.42 158.08" fill="none" stroke="#98c2e2" stroke-width="2.95" stroke-linecap="round"/>
<path d="M327.31 157.05 C326.6 158.71 335.76 162.23 334.93 163.83" fill="none" stroke="#5c426e" stroke-width="2.95" stroke-linecap="round"/>
<path d="M324.49 162.26 C323.49 163.76 332.52 167.58 331.46 169.04" fill="none" stroke="#98c2e2" stroke-width="2.95" stroke-linecap="round"/>
<path d="M321.26 167.1 C320.02 168.41 328.9 171.69 327.66 173" fill="none" stroke="#98c2e2" stroke-width="2.95" stroke-linecap="round"/>
<path d="M318.21 170.19 C316.81 171.32 323.72 176.71 322.28 177.79" fill="none" stroke="#5c426e" stroke-width="2.95" stroke-linecap="round"/>
<path d="M314.61 172.85 C313.07 173.79 317.89 180.71 316.29 181.53" fill="none" stroke="#6e5080" stroke-width="2.95" stroke-linecap="round"/>
<path d="M338.78 149.95 C338.53 151.73 329.41 150.46 328.96 152.21" fill="none" stroke="#a3cbea" stroke-width="2.95" stroke-linecap="round"/>
<path d="M337.42 158.08 C336.83 159.78 328.02 155.4 327.31 157.05" fill="none" stroke="#a3cbea" stroke-width="2.95" stroke-linecap="round"/>
<path d="M334.93 163.83 C334.1 165.42 325.48 160.76 324.49 162.26" fill="none" stroke="#7c5c8e" stroke-width="2.95" stroke-linecap="round"/>
<path d="M331.46 169.04 C330.41 170.5 322.5 165.8 321.26 167.1" fill="none" stroke="#a3cbea" stroke-width="2.95" stroke-linecap="round"/>
<path d="M327.66 173 C326.42 174.3 319.61 169.06 318.21 170.19" fill="none" stroke="#7c5c8e" stroke-width="2.95" stroke-linecap="round"/>
<path d="M322.28 177.79 C320.84 178.87 316.15 171.91 314.61 172.85" fill="none" stroke="#7c5c8e" stroke-width="2.95" stroke-linecap="round"/>
<path d="M316.29 181.53 C314.69 182.36 311.86 174.86 310.2 175.55" fill="none" stroke="#a3cbea" stroke-width="2.95" stroke-linecap="round"/>
<g font-family="Liberation Sans, sans-serif" font-size="9.3" fill="#2a2a2a" stroke="#2a2a2a" stroke-width="0.2" text-anchor="middle">
<text x="297.5" y="142.2">Spike</text><text x="297.8" y="151.6">protein</text><text x="297.6" y="161.2">gene</text></g>
<path d="M 312 140 L 321 140" stroke="#222" stroke-width="1"/><path d="M 325 140 L 319 137.2 L 320 140 L 319 142.8 Z" fill="#222"/>
<g font-family="Liberation Sans, sans-serif" font-size="9" fill="#333" stroke="#333" stroke-width="0.18"><text x="394.2" y="93.3">Spikes used to</text><text x="394.2" y="104">latch onto and</text><text x="394.2" y="114.7">enter human cells</text></g>
<g font-family="Liberation Sans, sans-serif" font-size="8.5" font-weight="bold" fill="#777" letter-spacing="0.12"><text x="110.8" y="146.5">CORONAVIRUS</text><text x="110.8" y="254">CORONAVIRUS</text><text x="110.8" y="264.7">GENOME</text></g>
<g font-family="Liberation Sans, sans-serif" font-size="9.3" fill="#2a2a2a" stroke="#2a2a2a" stroke-width="0.2" text-anchor="middle"><text x="234" y="255.2">ORF1a</text><text x="234" y="264.5">protein</text><text x="355.3" y="255.2">ORF1b</text><text x="355.3" y="264.5">protein</text></g>
<g font-family="Liberation Sans, sans-serif" font-size="9.1" fill="#151515" font-weight="bold" text-anchor="middle"><text x="419.5" y="255">Spike</text><text x="419.6" y="265.4">protein</text></g>
<g font-family="Liberation Sans, sans-serif" font-size="9.3" fill="#444" stroke="#444" stroke-width="0.2"><text x="446.6" y="265.7" font-size="8.8">E</text><text x="453.9" y="265.7" font-size="8.8">M</text><text x="475" y="265.7">N</text></g>
<g>
<rect x="167.5" y="273.2" width="321" height="20.600000000000023" rx="2.5" fill="#5b5650"/>
<rect x="170" y="274.09999999999997" width="142" height="18.800000000000022" fill="url(#gOr)"/>
<rect x="312" y="274.09999999999997" width="86.8" height="18.800000000000022" fill="url(#gOr2)"/>
<rect x="398.8" y="274.09999999999997" width="41.2" height="18.800000000000022" fill="#d6403f"/>
<rect x="399.2" y="274.09999999999997" width="1.3" height="18.800000000000022" fill="#c41e28"/>
<rect x="402.5" y="274.09999999999997" width="1.3" height="18.800000000000022" fill="#c41e28"/>
<rect x="414.2" y="274.09999999999997" width="1.2" height="18.800000000000022" fill="#c41e28"/>
<rect x="416.7" y="274.09999999999997" width="1.2" height="18.800000000000022" fill="#c41e28"/>
<rect x="420.4" y="274.09999999999997" width="1.6" height="18.800000000000022" fill="#c41e28"/>
<rect x="430" y="274.09999999999997" width="1.3" height="18.800000000000022" fill="#c41e28"/>
<rect x="434.2" y="274.09999999999997" width="1.3" height="18.800000000000022" fill="#c41e28"/>
<rect x="438.3" y="274.09999999999997" width="1" height="18.800000000000022" fill="#c41e28"/>
<rect x="440" y="274.09999999999997" width="9.100000000000023" height="18.800000000000022" fill="#a9cadd"/>
<rect x="449.1" y="274.09999999999997" width="1.8999999999999773" height="18.800000000000022" fill="#8e7090"/>
<rect x="451" y="274.09999999999997" width="1.3000000000000114" height="18.800000000000022" fill="#c2a8c0"/>
<rect x="452.3" y="274.09999999999997" width="6.699999999999989" height="18.800000000000022" fill="#957a95"/>
<rect x="459" y="274.09999999999997" width="1" height="18.800000000000022" fill="#8fb0c5"/>
<rect x="460" y="274.09999999999997" width="5" height="18.800000000000022" fill="#aacadc"/>
<rect x="465" y="274.09999999999997" width="1" height="18.800000000000022" fill="#8cb0c4"/>
<rect x="466" y="274.09999999999997" width="1.8000000000000114" height="18.800000000000022" fill="#aacadc"/>
<rect x="467.8" y="274.09999999999997" width="1.3999999999999773" height="18.800000000000022" fill="#c00818"/>
<rect x="469.2" y="274.09999999999997" width="1.3000000000000114" height="18.800000000000022" fill="#b0c8d8"/>
<rect x="470.5" y="274.09999999999997" width="1.0" height="18.800000000000022" fill="#a8304a"/>
<rect x="471.5" y="274.09999999999997" width="6.699999999999989" height="18.800000000000022" fill="#957890"/>
<rect x="478.2" y="274.09999999999997" width="1.0" height="18.800000000000022" fill="#b82838"/>
<rect x="479.2" y="274.09999999999997" width="5.199999999999989" height="18.800000000000022" fill="#957890"/>
<rect x="484.4" y="274.09999999999997" width="2.1000000000000227" height="18.800000000000022" fill="#a0c0d4"/>
<rect x="201.9" y="274.09999999999997" width="1.1999999999999886" height="18.800000000000022" fill="#e4482a"/>
<rect x="224.6" y="274.09999999999997" width="1.1999999999999886" height="18.800000000000022" fill="#e4482a"/>
<rect x="241.4" y="274.09999999999997" width="1.1999999999999886" height="18.800000000000022" fill="#e4482a"/>
<rect x="287.9" y="274.09999999999997" width="1.2000000000000455" height="18.800000000000022" fill="#e4482a"/>
<rect x="170" y="274.09999999999997" width="316.5" height="18.800000000000022" fill="url(#gShade)"/>
<rect x="168.3" y="274.09999999999997" width="2.2" height="18.800000000000022" fill="url(#gCap)"/>
<rect x="486.3" y="274.09999999999997" width="1.8" height="18.800000000000022" fill="url(#gCap)"/>
</g>
<path d="M 202.3 298.2 L 202.3 310" stroke="#555" stroke-width="1.0"/>
<path d="M 199.70000000000002 299.5 L 202.3 296.2 L 204.9 299.5 L 202.3 298.4 Z" fill="#111"/>
<path d="M 225.2 298.2 L 225.2 310" stroke="#555" stroke-width="1.0"/>
<path d="M 222.6 299.5 L 225.2 296.2 L 227.79999999999998 299.5 L 225.2 298.4 Z" fill="#111"/>
<path d="M 242.2 298.2 L 242.2 310" stroke="#555" stroke-width="1.0"/>
<path d="M 239.6 299.5 L 242.2 296.2 L 244.79999999999998 299.5 L 242.2 298.4 Z" fill="#111"/>
<path d="M 288.6 298.8 L 288.6 310.3" stroke="#555" stroke-width="1.0"/>
<path d="M 286.0 300.1 L 288.6 296.8 L 291.20000000000005 300.1 L 288.6 299.0 Z" fill="#111"/>
<path d="M 202.5 327 L 202.5 332" stroke="#555" stroke-width="1"/>
<path d="M 224.8 327 L 224.8 332" stroke="#555" stroke-width="1"/>
<path d="M 242.2 327 L 242.2 332" stroke="#555" stroke-width="1"/>
<rect x="193.4" y="310.1" width="18.2" height="18.1" rx="3.2" fill="#efeee4" stroke="#555" stroke-width="1.1"/>
<text x="202.5" y="322.35" font-family="Liberation Mono, monospace" font-size="10.4" fill="#888888" stroke="#888888" stroke-width="0.15" text-anchor="middle">u</text>
<circle cx="202.5" cy="340.5" r="9.05" fill="#c8cfe6" stroke="#444" stroke-width="1.1"/>
<text x="202.5" y="344.5" font-family="Liberation Mono, monospace" font-size="11.6" fill="#1a1a1a" stroke="#1a1a1a" stroke-width="0.15" text-anchor="middle">I</text>
<rect x="215.70000000000002" y="310.1" width="18.2" height="18.1" rx="3.2" fill="#efeee4" stroke="#555" stroke-width="1.1"/>
<text x="224.8" y="322.35" font-family="Liberation Mono, monospace" font-size="10.4" fill="#888888" stroke="#888888" stroke-width="0.15" text-anchor="middle">a</text>
<circle cx="224.8" cy="340.5" r="9.05" fill="#c8cfe6" stroke="#444" stroke-width="1.1"/>
<text x="224.8" y="344.5" font-family="Liberation Mono, monospace" font-size="11.6" fill="#1a1a1a" stroke="#1a1a1a" stroke-width="0.15" text-anchor="middle">D</text>
<rect x="233.1" y="310.1" width="18.2" height="18.1" rx="3.2" fill="#efeee4" stroke="#555" stroke-width="1.1"/>
<text x="242.2" y="322.35" font-family="Liberation Mono, monospace" font-size="10.4" fill="#888888" stroke="#888888" stroke-width="0.15" text-anchor="middle">c</text>
<circle cx="242.2" cy="340.5" r="9.05" fill="#c8cfe6" stroke="#444" stroke-width="1.1"/>
<text x="242.2" y="344.5" font-family="Liberation Mono, monospace" font-size="11.6" fill="#1a1a1a" stroke="#1a1a1a" stroke-width="0.15" text-anchor="middle">T</text>
<g font-family="Liberation Sans, sans-serif" font-size="9.2" fill="#2a2a2a" stroke="#2a2a2a" stroke-width="0.2" text-anchor="end" letter-spacing="-0.15"><text x="175" y="317.1">Change in</text><text x="175" y="327.2">RNA sequence</text><text x="175" y="343.8">Change in</text><text x="175" y="354.4">amino acid</text></g>
<path d="M 181 315.6 L 186.8 318.7 L 181 321.8 Z" fill="#111"/><path d="M 181 337.7 L 186.8 340.8 L 181 343.9 Z" fill="#111"/>
<path d="M 286.45 316.55 L 290.65000000000003 322.34999999999997 M 290.65000000000003 316.55 L 286.45 322.34999999999997" stroke="#e3141e" stroke-width="1.55" stroke-linecap="square"/>
<text x="288.6" y="332.5" font-family="Liberation Sans, sans-serif" font-size="9.3" fill="#2a2a2a" stroke="#2a2a2a" stroke-width="0.2" text-anchor="middle">(deletion)</text>
<g font-family="Liberation Sans, sans-serif" fill="#808080" text-anchor="middle"><text x="349.7" y="321.3" font-size="8.5" font-weight="bold" letter-spacing="0.3">MUTATIONS</text><text x="350.1" y="332.3" font-size="9" stroke="#858585" stroke-width="0.25">that led to the</text><text x="349.8" y="342.6" font-size="9" stroke="#858585" stroke-width="0.25">B.1.1.7 variant</text></g>
<path d="M 400.8 302.8 L 395.4 302.8 L 395.4 310" stroke="#555" stroke-width="1" fill="none"/>
<path d="M 400.8 298.2 L 400.8 303.3" stroke="#555" stroke-width="1.0"/>
<path d="M 398.2 299.5 L 400.8 296.2 L 403.40000000000003 299.5 L 400.8 298.4 Z" fill="#111"/>
<path d="M 403.3 298.2 L 403.3 332.5" stroke="#444" stroke-width="1.0"/>
<path d="M 400.7 299.5 L 403.3 296.2 L 405.90000000000003 299.5 L 403.3 298.4 Z" fill="#111"/>
<path d="M 414.8 298.2 L 414.8 310.5" stroke="#888" stroke-width="1.1"/>
<path d="M 412.2 299.5 L 414.8 296.2 L 417.40000000000003 299.5 L 414.8 298.4 Z" fill="#111"/>
<path d="M 416.8 298.2 L 416.8 310.5" stroke="#888" stroke-width="1.1"/>
<path d="M 414.2 299.5 L 416.8 296.2 L 419.40000000000003 299.5 L 416.8 298.4 Z" fill="#111"/>
<path d="M 418.3 298.2 L 418.3 310.5" stroke="#888" stroke-width="1.1"/>
<path d="M 415.7 299.5 L 418.3 296.2 L 420.90000000000003 299.5 L 418.3 298.4 Z" fill="#111"/>
<path d="M 421.5 298.2 L 421.5 310.5" stroke="#888" stroke-width="1.1"/>
<path d="M 418.9 299.5 L 421.5 296.2 L 424.1 299.5 L 421.5 298.4 Z" fill="#111"/>
<path d="M 430.5 298.2 L 430.5 310.5" stroke="#888" stroke-width="1.1"/>
<path d="M 427.9 299.5 L 430.5 296.2 L 433.1 299.5 L 430.5 298.4 Z" fill="#111"/>
<path d="M 434.6 298.2 L 434.6 310.5" stroke="#888" stroke-width="1.1"/>
<path d="M 432.0 299.5 L 434.6 296.2 L 437.20000000000005 299.5 L 434.6 298.4 Z" fill="#111"/>
<path d="M 451.4 310 L 451.4 303.4 L 469.5 303.4" stroke="#555" stroke-width="1" fill="none"/>
<path d="M 478.4 298.2 L 478.4 310.5" stroke="#666" stroke-width="1.0"/>
<path d="M 475.79999999999995 299.5 L 478.4 296.2 L 481.0 299.5 L 478.4 298.4 Z" fill="#111"/>
<path d="M 415.4 327 L 415.4 332" stroke="#666" stroke-width="1"/>
<path d="M 417.5 327 L 417.5 332" stroke="#666" stroke-width="1"/>
<path d="M 420.8 327 L 420.8 332" stroke="#666" stroke-width="1"/>
<path d="M 430.4 327 L 430.4 332" stroke="#666" stroke-width="1"/>
<path d="M 434.2 327 L 434.2 332" stroke="#666" stroke-width="1"/>
<path d="M 452.6 327 L 452.6 332" stroke="#666" stroke-width="1"/>
<path d="M 471 327 L 471 332" stroke="#666" stroke-width="1"/>
<path d="M 393.29999999999995 316.45000000000005 L 397.5 322.25 M 397.5 316.45000000000005 L 393.29999999999995 322.25" stroke="#e3141e" stroke-width="1.55" stroke-linecap="square"/>
<path d="M 400.79999999999995 339.6 L 405.0 345.4 M 405.0 339.6 L 400.79999999999995 345.4" stroke="#e3141e" stroke-width="1.55" stroke-linecap="square"/>
<path d="M 469.5 298.2 L 469.5 331.8" stroke="#222" stroke-width="1.8"/>
<path d="M 466.9 299.5 L 469.5 296.2 L 472.1 299.5 L 469.5 298.4 Z" fill="#111"/>
<g filter="url(#bsh)">
<rect x="406.3" y="310.2" width="18" height="17.4" rx="3.2" fill="#efeee4" stroke="#555" stroke-width="1.1"/>
<rect x="408.8" y="310.2" width="18" height="17.4" rx="3.2" fill="#efeee4" stroke="#555" stroke-width="1.1"/>
<rect x="412.9" y="310.2" width="18" height="17.4" rx="3.2" fill="#efeee4" stroke="#555" stroke-width="1.1"/>
<text x="421.9" y="322.09999999999997" font-family="Liberation Mono, monospace" font-size="10.4" fill="#888888" stroke="#888888" stroke-width="0.15" text-anchor="middle">u</text>
<rect x="422.1" y="310.2" width="18" height="17.4" rx="3.2" fill="#efeee4" stroke="#555" stroke-width="1.1"/>
<rect x="424.4" y="310.2" width="18" height="17.4" rx="3.2" fill="#efeee4" stroke="#555" stroke-width="1.1"/>
<rect x="426.7" y="310.2" width="18" height="17.4" rx="3.2" fill="#efeee4" stroke="#555" stroke-width="1.1"/>
<text x="435.7" y="322.09999999999997" font-family="Liberation Mono, monospace" font-size="10.4" fill="#888888" stroke="#888888" stroke-width="0.15" text-anchor="middle">c</text>
<rect x="469.6" y="310.2" width="18" height="17.4" rx="3.2" fill="#efeee4" stroke="#555" stroke-width="1.1"/>
<rect x="443.7" y="310.2" width="18" height="17.4" rx="3.2" fill="#efeee4" stroke="#555" stroke-width="1.1"/>
<text x="452.7" y="322.09999999999997" font-family="Liberation Mono, monospace" font-size="10.4" fill="#888888" stroke="#888888" stroke-width="0.15" text-anchor="middle">u</text>
<rect x="457.4" y="310.2" width="27.6" height="17.4" rx="3.2" fill="#efeee4" stroke="#555" stroke-width="1.1"/>
<text x="471.2" y="322.09999999999997" font-family="Liberation Mono, monospace" font-size="10.4" fill="#888888" stroke="#888888" stroke-width="0.15" text-anchor="middle">cua</text>
</g>
<g filter="url(#bsh)">
<circle cx="414.8" cy="340.4" r="9" fill="#c8cfe6" stroke="#444" stroke-width="1.1"/>
<circle cx="417.0" cy="340.4" r="9" fill="#c8cfe6" stroke="#444" stroke-width="1.1"/>
<circle cx="421.5" cy="340.4" r="9" fill="#c8cfe6" stroke="#444" stroke-width="1.1"/>
<text x="420.3" y="344.4" font-family="Liberation Mono, monospace" font-size="11.6" fill="#1a1a1a" stroke="#1a1a1a" stroke-width="0.15" text-anchor="middle">I</text>
<circle cx="431.5" cy="340.4" r="9" fill="#c8cfe6" stroke="#444" stroke-width="1.1"/>
<circle cx="433.6" cy="340.4" r="9" fill="#c8cfe6" stroke="#444" stroke-width="1.1"/>
<circle cx="435.7" cy="340.4" r="9" fill="#c8cfe6" stroke="#444" stroke-width="1.1"/>
<text x="436.6" y="344.4" font-family="Liberation Mono, monospace" font-size="11.6" fill="#1a1a1a" stroke="#1a1a1a" stroke-width="0.15" text-anchor="middle">K</text>
<circle cx="478.4" cy="340.4" r="9" fill="#c8cfe6" stroke="#444" stroke-width="1.1"/>
<ellipse cx="450.4" cy="340.45" rx="15.5" ry="9" fill="#a9aec8" stroke="#444" stroke-width="1"/>
<text x="451.5" y="343.4" font-family="Liberation Mono, monospace" font-size="9.8" font-weight="bold" letter-spacing="-0.45" fill="#111" text-anchor="middle">stop</text>
<circle cx="470.9" cy="340.4" r="8.6" fill="#c8cfe6" stroke="#444" stroke-width="1.1"/>
<text x="470.9" y="344.4" font-family="Liberation Mono, monospace" font-size="11.6" fill="#1a1a1a" stroke="#1a1a1a" stroke-width="0.15" text-anchor="middle">L</text>
</g>
</svg></body></html>
